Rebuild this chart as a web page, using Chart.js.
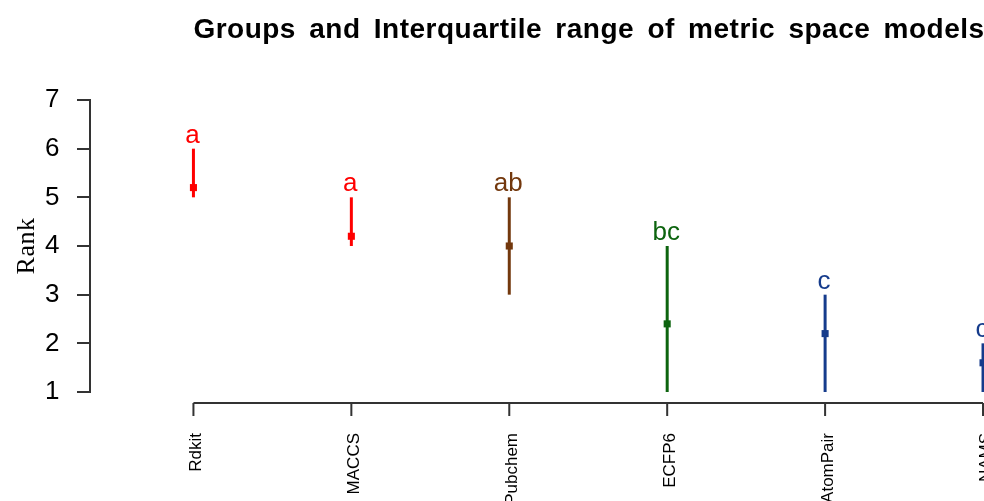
<!DOCTYPE html>
<html>
<head>
<meta charset="utf-8">
<script src="https://cdn.jsdelivr.net/npm/chart.js@4/dist/chart.umd.min.js"></script>
<style>
  body { margin: 0; background: #fff; }
  #wrap { width: 984px; height: 501px; overflow: hidden; }
</style>
</head>
<body>
<div id="wrap"><canvas id="myChart" width="1178" height="501"></canvas></div>
<script>
const models = ['Rdkit', 'MACCS', 'Pubchem', 'ECFP6', 'AtomPair', 'NAMS'];
const lowerQ = [5, 4, 3, 1, 1, 1];
const upperQ = [6, 5, 5, 4, 3, 2];
const medians = [5.2, 4.2, 4.0, 2.4, 2.2, 1.6];
const groups = ['a', 'a', 'ab', 'bc', 'c', 'c'];
const groupColors = ['#ff0000', '#ff0000', '#73380d', '#0d640f', '#163c8c', '#163c8c'];
const rankTicks = [1, 2, 3, 4, 5, 6, 7];

// vertical lines for the interquartile ranges
let datasets = models.map((m, i) => ({
	label: m,
	data: [{ x: i, y: lowerQ[i] }, { x: i, y: upperQ[i] }],
	showLine: true,
	borderColor: groupColors[i],
	borderWidth: 3,
	borderCapStyle: 'butt',
	pointRadius: 0
}));

datasets.push({
	label: 'median',
	data: medians.map((v, i) => ({ x: i, y: v })),
	showLine: false,
	pointStyle: 'rect',
	pointRadius: 5,
	pointBackgroundColor: groupColors,
	pointBorderColor: groupColors,
	pointBorderWidth: 0
});

// slightly wider spacing for the title, like the R/GDI rendering
const titleSpacing = {
	id: 'titleSpacing',
	beforeDraw(chart) {
		chart.ctx.letterSpacing = '0.5px';
		chart.ctx.wordSpacing = '5px';
	},
	beforeDatasetsDraw(chart) {
		chart.ctx.letterSpacing = '0px';
		chart.ctx.wordSpacing = '0px';
	}
};

// x axis like R's axis(): line only from first to last tick, labels rotated
const xAxisPlugin = {
	id: 'xAxisPlugin',
	afterDraw(chart) {
		let ctx = chart.ctx;
		let xs = chart.scales.x;
		let ys = chart.scales.y;
		let yLine = 403;
		ctx.save();
		ctx.strokeStyle = '#333';
		ctx.lineWidth = 2;
		ctx.beginPath();
		ctx.moveTo(xs.getPixelForValue(0), yLine);
		ctx.lineTo(xs.getPixelForValue(models.length - 1), yLine);
		models.forEach((m, i) => {
			let px = xs.getPixelForValue(i);
			ctx.moveTo(px, yLine);
			ctx.lineTo(px, yLine + 13);
		});
		ctx.stroke();

		ctx.fillStyle = '#000';
		ctx.font = '17px "Liberation Sans", Arial, sans-serif';
		ctx.textAlign = 'right';
		ctx.textBaseline = 'middle';
		models.forEach((m, i) => {
			let px = xs.getPixelForValue(i);
			ctx.save();
			ctx.translate(px + 3, 433);
			ctx.rotate(-Math.PI / 2);
			ctx.fillText(m, 0, 0);
			ctx.restore();
		});

		// group letters above each range
		ctx.font = '26px "Liberation Sans", Arial, sans-serif';
		ctx.textAlign = 'center';
		ctx.textBaseline = 'alphabetic';
		groups.forEach((g, i) => {
			ctx.fillStyle = groupColors[i];
			ctx.fillText(g, xs.getPixelForValue(i) - 1, ys.getPixelForValue(upperQ[i]) - 6);
		});
		ctx.restore();
	}
};

new Chart(document.getElementById('myChart'), {
	type: 'scatter',
	data: { datasets: datasets },
	options: {
		responsive: false,
		animation: false,
		layout: { padding: { top: 0, right: 0, bottom: 109, left: 0 } },
		plugins: {
			legend: { display: false },
			tooltip: { enabled: false },
			title: {
				display: true,
				text: 'Groups and Interquartile range of metric space models',
				color: '#000',
				font: { family: '"Liberation Sans", Arial, sans-serif', size: 28, weight: 'bold' },
				padding: { top: 13, bottom: 53.4 }
			}
		},
		scales: {
			x: {
				type: 'linear',
				min: -0.655,
				max: 6.203,
				display: false
			},
			y: {
				min: 1,
				max: 7,
				afterBuildTicks(s) { s.ticks = rankTicks.map(v => ({ value: v })); },
				afterFit(s) { s.width = 90; },
				ticks: {
					color: '#000',
					padding: 17,
					font: { family: '"Liberation Sans", Arial, sans-serif', size: 26 }
				},
				grid: { drawOnChartArea: false, tickLength: 13, color: '#333', lineWidth: 2 },
				border: { color: '#333', width: 2 },
				title: {
					display: true,
					text: 'Rank',
					color: '#000',
					font: { family: '"Liberation Serif", "Times New Roman", serif', size: 26 },
					padding: { top: 12, bottom: 0 }
				}
			}
		}
	},
	plugins: [titleSpacing, xAxisPlugin]
});
</script>
</body>
</html>
